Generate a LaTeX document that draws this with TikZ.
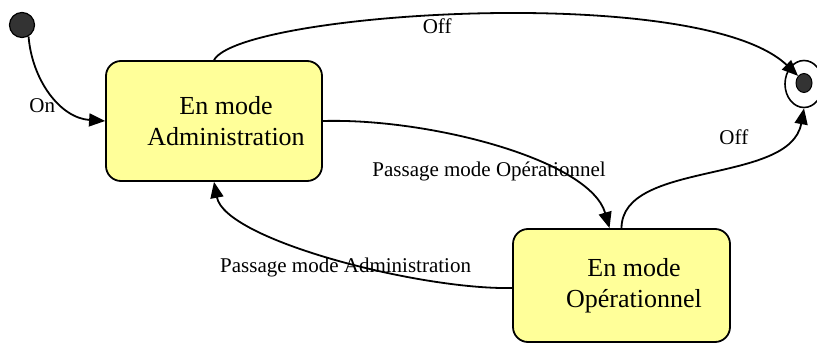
\documentclass[tikz,border=0pt]{standalone}
\usepackage{fontspec}
\setmainfont{Liberation Serif}
\usetikzlibrary{arrows.meta,shapes.geometric}
\definecolor{stateyellow}{RGB}{255,255,153}
\definecolor{dotgray}{RGB}{51,51,51}
\begin{document}
\begin{tikzpicture}[x=1pt,y=-1pt,
  statebox/.style={draw=black, line width=1.8pt, fill=stateyellow, rounded corners=15pt, align=center, font=\fontsize{26}{31}\selectfont, inner sep=0pt},
  conn/.style={draw=black, line width=1.8pt, -{Triangle[length=16pt,width=13pt]}},
  lbl/.style={font=\fontsize{21}{25}\selectfont, inner sep=0pt},
]
\useasboundingbox (0,0) rectangle (817,345);
\node[circle, draw, line width=1.2pt, fill=dotgray, minimum size=25pt, inner sep=0pt] (init) at (22,25) {};
\node[statebox, minimum width=216pt, minimum height=120pt] (admin) at (214,121) {\hspace*{24pt}En mode\\\hspace*{24pt}Administration};
\node[statebox, minimum width=217pt, minimum height=113pt] (oper) at (621.5,285.5) {\hspace*{25pt}En mode\\\hspace*{25pt}Opérationnel};
\node[ellipse, draw, line width=1.6pt, minimum width=38pt, minimum height=47pt, inner sep=0pt] (final) at (804,84) {};
\node[ellipse, draw, line width=1pt, fill=dotgray, minimum width=16pt, minimum height=19pt, inner sep=0pt] (finalin) at (804,83) {};

\draw[conn] (init.-60) .. controls (32,80) and (60,118) .. node[lbl, pos=0.5, xshift=-9pt, yshift=-12pt] {On} (admin.west);
\draw[conn] (admin.north) .. controls (240,12) and (700,-18) .. node[lbl, pos=0.45, xshift=-3pt, yshift=-10pt] {Off} (finalin.130);
\draw[conn] (admin.east) .. controls (430,118) and (590,160) .. node[lbl, pos=0.5, xshift=-10pt, yshift=-24pt] {Passage mode Opérationnel} ([xshift=-12pt]oper.north);
\draw[conn] ([yshift=-2.5pt]oper.west) .. controls (420,290) and (225,240) .. node[lbl, pos=0.5, xshift=13pt, yshift=-10pt] {Passage mode Administration} (admin.south);
\draw[conn] (oper.north) .. controls (622,160) and (790,185) .. node[lbl, pos=0.6, yshift=27pt] {Off} (final.south);
\end{tikzpicture}
\end{document}
